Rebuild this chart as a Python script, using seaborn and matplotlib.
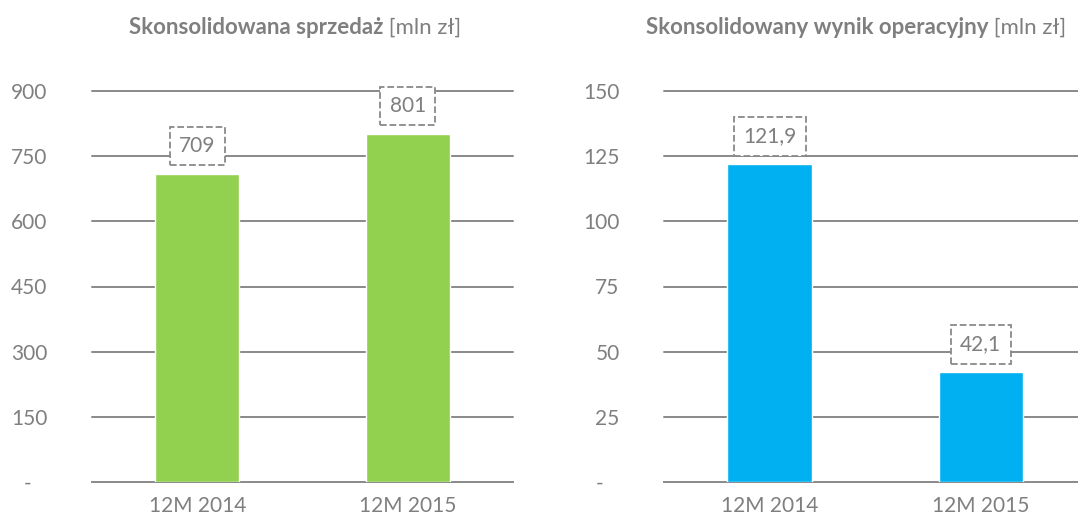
import matplotlib
matplotlib.use('Agg')
import matplotlib.pyplot as plt
import seaborn as sns
import pandas as pd

# Chart data
categories = ['12M 2014', '12M 2015']
sales = [709, 801]
sales_labels = ['709', '801']
op_result = [121.9, 42.1]
op_labels = ['121,9', '42,1']

sales_ticks = [0, 150, 300, 450, 600, 750, 900]
op_ticks = [0, 25, 50, 75, 100, 125, 150]

sns.set_theme(style='white')
plt.rcParams['font.family'] = ['Lato', 'DejaVu Sans']

GRAY_TXT = '#7f7f7f'
GRID = '#898989'
FS = 15

fig = plt.figure(figsize=(10.78, 5.21), dpi=100)
ax1 = fig.add_axes([92 / 1078, 39 / 521, 421 / 1078, 391 / 521])
ax2 = fig.add_axes([664 / 1078, 39 / 521, 414 / 1078, 391 / 521])


def draw(ax, values, labels, ticks, color, xmax):
    df = pd.DataFrame({'cat': categories, 'val': values})
    sns.barplot(data=df, x='cat', y='val', color=color, width=0.4,
                saturation=1, ax=ax, zorder=3)
    ax.set_xlim(-0.5, xmax)
    ax.set_ylim(ticks[0], ticks[-1])
    ax.set_yticks(ticks)
    ax.set_yticklabels(['-   '] + [str(t) for t in ticks[1:]])
    for t in ticks[1:]:
        ax.axhline(t, color=GRID, lw=1.4, zorder=1, clip_on=False)
    for s in ['top', 'right', 'left']:
        ax.spines[s].set_visible(False)
    ax.spines['bottom'].set_color(GRID)
    ax.spines['bottom'].set_linewidth(1.4)
    ax.set_xlabel('')
    ax.set_ylabel('')
    ax.tick_params(axis='y', length=0, pad=32, labelsize=FS, labelcolor=GRAY_TXT)
    ax.tick_params(axis='x', length=0, pad=10, labelsize=FS, labelcolor=GRAY_TXT)
    for i, (v, lab) in enumerate(zip(values, labels)):
        ax.annotate(lab, xy=(i, v), xytext=(0, 13), textcoords='offset points',
                    ha='center', va='bottom', fontsize=FS, color=GRAY_TXT, zorder=5,
                    bbox=dict(boxstyle='square,pad=0.45', fc='white', ec=GRID,
                              ls='--', lw=1.3))


draw(ax1, sales, sales_labels, sales_ticks, '#92D050', 1.5)
draw(ax2, op_result, op_labels, op_ticks, '#00B0F0', 1.46)


def title(center_px, bold, regular):
    y = 1 - 28 / 521
    t1 = fig.text(0, y, bold, fontsize=16, fontweight='bold', color=GRAY_TXT,
                  ha='left', va='center')
    t2 = fig.text(0, y, regular, fontsize=16, color=GRAY_TXT,
                  ha='left', va='center')
    r = fig.canvas.get_renderer()
    w1 = t1.get_window_extent(r).width
    w2 = t2.get_window_extent(r).width
    start = center_px - (w1 + w2) / 2
    t1.set_x(start / 1078)
    t2.set_x((start + w1) / 1078)


title(295, 'Skonsolidowana sprzedaż', '\u00a0[mln zł]')
title(856, 'Skonsolidowany wynik operacyjny', '\u00a0[mln zł]')

fig.savefig('out.png', dpi=100)
